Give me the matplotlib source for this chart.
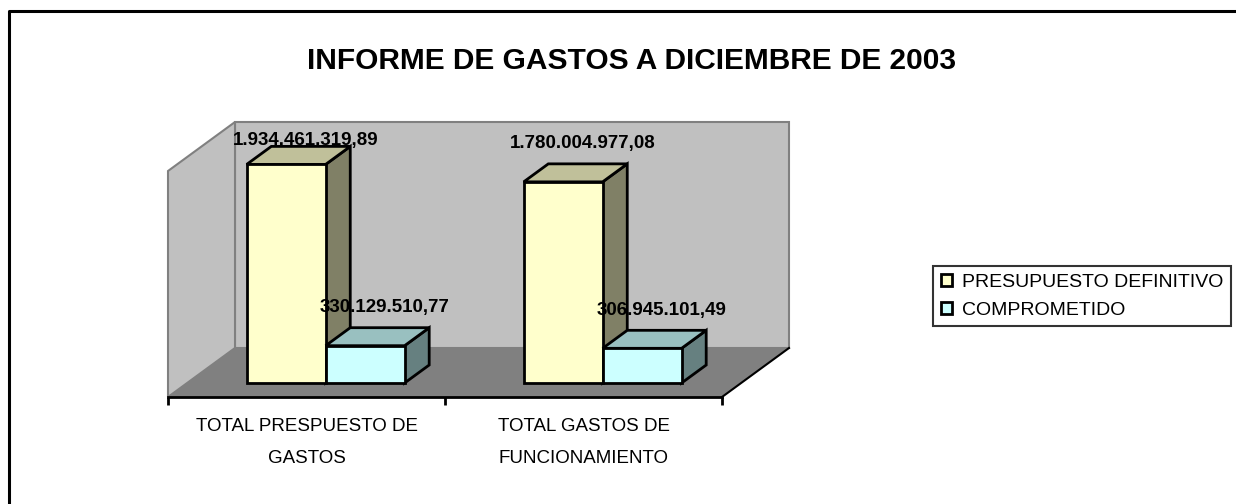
import matplotlib
matplotlib.use('Agg')
import matplotlib.pyplot as plt
from matplotlib.patches import Polygon, Patch
from matplotlib.lines import Line2D
from matplotlib.transforms import IdentityTransform, ScaledTranslation

plt.rcParams['font.family'] = ['Liberation Sans', 'DejaVu Sans']

# datos
titulo = 'INFORME DE GASTOS A DICIEMBRE DE 2003'
categorias = ['TOTAL PRESPUESTO DE\nGASTOS', 'TOTAL GASTOS DE\nFUNCIONAMIENTO']
series = ['PRESUPUESTO DEFINITIVO', 'COMPROMETIDO']
presupuesto = [1934461319.89, 1780004977.08]
comprometido = [330129510.77, 306945101.49]
etiquetas_pres = ['1.934.461.319,89', '1.780.004.977,08']
etiquetas_comp = ['330.129.510,77', '306.945.101,49']
y_max = 2e9

# colores: frente, tapa, lado
col_pres = ('#FFFFCC', '#C0C09A', '#808066')
col_comp = ('#CCFFFF', '#99C0C0', '#668080')

W, H = 1236, 504
fig = plt.figure(figsize=(W / 100, H / 100), dpi=100)
ax = fig.add_axes([168 / W, (H - 397) / H, 554 / W, 226 / H])
ax.set_xlim(-0.5, 1.5)
ax.set_ylim(0, y_max)
ax.patch.set_visible(False)

# profundidad del "3D" en pixeles
prof_total = 49
k = 67 / 49
d_frente, d_fondo = 14, 32


def a_pix(x, y, d):
    px, py = ax.transData.transform((x, y))
    return (px + d * k, py + d)


def poligono(puntos, color, borde, lw=1.5, z=1):
    p = Polygon(puntos, closed=True, facecolor=color, edgecolor=borde,
                linewidth=lw, transform=IdentityTransform(), clip_on=False, zorder=z)
    ax.add_artist(p)


# paredes y piso
x0, x1 = -0.5, 1.5
poligono([a_pix(x0, 0, prof_total), a_pix(x1, 0, prof_total),
          a_pix(x1, y_max, prof_total), a_pix(x0, y_max, prof_total)], '#C0C0C0', '#808080', z=0.5)
poligono([a_pix(x0, 0, 0), a_pix(x0, 0, prof_total),
          a_pix(x0, y_max, prof_total), a_pix(x0, y_max, 0)], '#C0C0C0', '#808080', z=0.5)
poligono([a_pix(x0, 0, 0), a_pix(x1, 0, 0),
          a_pix(x1, 0, prof_total), a_pix(x0, 0, prof_total)], '#808080', 'none', z=0.6)
pa, pb = a_pix(x1, 0, 0), a_pix(x1, 0, prof_total)
ax.add_artist(Line2D([pa[0], pb[0]], [pa[1], pb[1]], color='black', lw=1.5,
                     transform=IdentityTransform(), clip_on=False, zorder=0.7))

# barras
ancho = 0.285
desplaz = ScaledTranslation(d_frente * k / 100, d_frente / 100, fig.dpi_scale_trans)
tope_label = (H - 122) - 18

for i in range(len(categorias)):
    for j, (vals, cols, etiq) in enumerate([(presupuesto, col_pres, etiquetas_pres),
                                            (comprometido, col_comp, etiquetas_comp)]):
        xc = i + (j - 0.5) * ancho
        xa, xb = xc - ancho / 2, xc + ancho / 2
        v = vals[i]
        # lado y tapa
        poligono([a_pix(xb, 0, d_frente), a_pix(xb, 0, d_fondo),
                  a_pix(xb, v, d_fondo), a_pix(xb, v, d_frente)], cols[2], 'black', lw=2, z=2)
        poligono([a_pix(xa, v, d_frente), a_pix(xb, v, d_frente),
                  a_pix(xb, v, d_fondo), a_pix(xa, v, d_fondo)], cols[1], 'black', lw=2, z=2)
        ax.bar(xc, v, width=ancho, color=cols[0], edgecolor='black', linewidth=2,
               transform=ax.transData + desplaz, clip_on=False, zorder=2)
        # etiqueta de valor
        lx, _ = a_pix(xc, v, 28)
        _, ly = a_pix(xc, v, d_fondo)
        ly = min(ly + 20, tope_label)
        fig.text(lx / W, ly / H, etiq[i], ha='center', va='center',
                 fontsize=13.5, fontweight='bold', zorder=5)

# eje de categorias
for s in ['top', 'right', 'left']:
    ax.spines[s].set_visible(False)
ax.spines['bottom'].set_linewidth(2)
ax.spines['bottom'].set_color('black')
ax.set_yticks([])
ax.set_xticks([-0.5, 0.5, 1.5])
ax.set_xticklabels([])
ax.tick_params(axis='x', which='major', direction='out', length=6, width=2, color='black')
ax.set_xticks([0, 1], minor=True)
ax.set_xticklabels(categorias, minor=True, fontsize=13.5, linespacing=2.15)
ax.tick_params(axis='x', which='minor', length=0, pad=15)

# titulo
fig.text(632 / W, 1 - 61 / H, titulo, ha='center', va='center',
         fontsize=21.5, fontweight='bold')

# leyenda
manijas = [Patch(facecolor=col_pres[0], edgecolor='black', linewidth=2),
           Patch(facecolor=col_comp[0], edgecolor='black', linewidth=2)]
leg = fig.legend(manijas, series, loc='upper left', bbox_to_anchor=(933 / W, 1 - 266 / H),
                 fontsize=14, frameon=True, fancybox=False, edgecolor='black',
                 handlelength=0.6, handleheight=0.6, handletextpad=0.48,
                 labelspacing=0.55, borderpad=0.4, borderaxespad=0)
leg.get_frame().set_linewidth(1.5)

# marco exterior (solo izquierda y arriba visibles)
fig.add_artist(Line2D([9 / W, 9 / W, 1], [0, 1 - 11 / H, 1 - 11 / H],
                      color='black', lw=2.2, transform=fig.transFigure))

fig.savefig('out.png', dpi=100)
